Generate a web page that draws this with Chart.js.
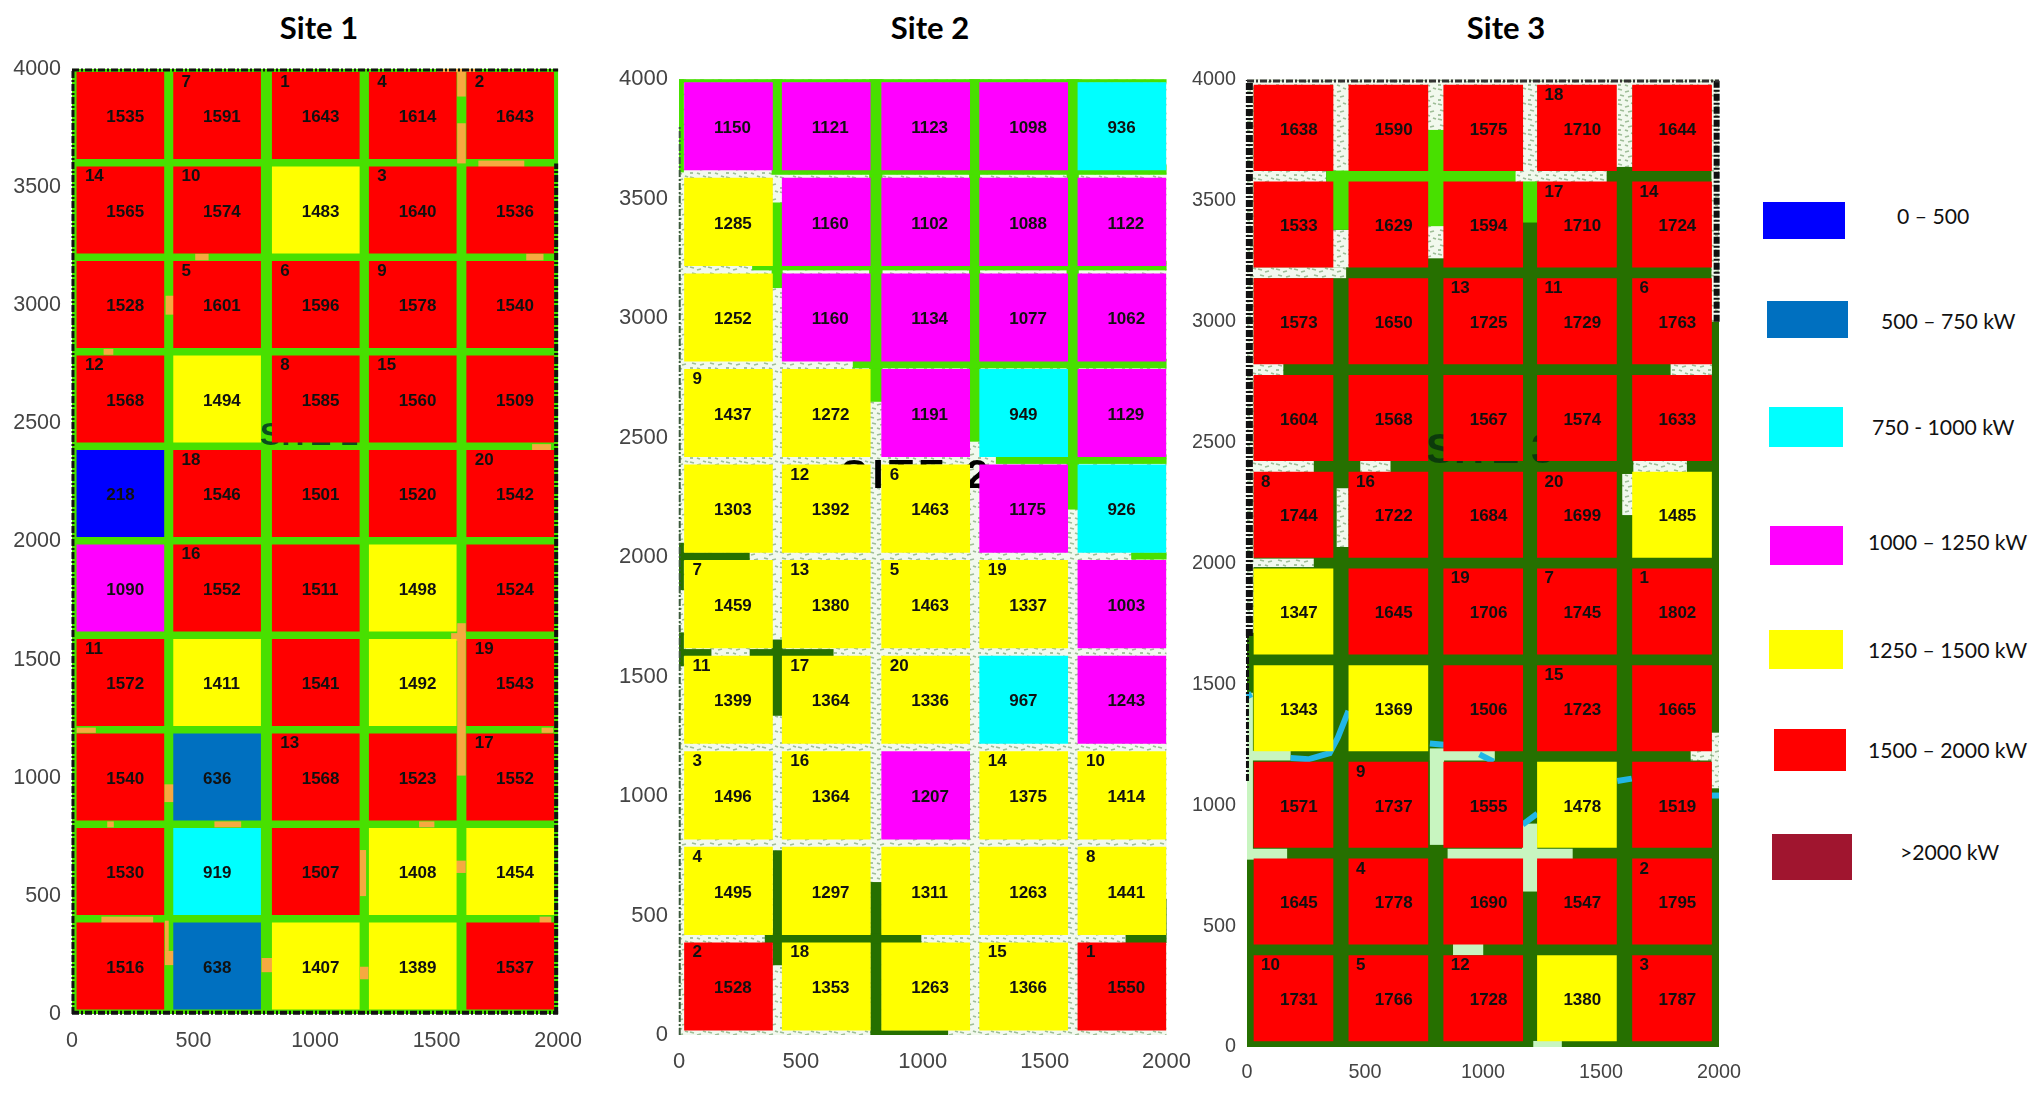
<!DOCTYPE html>
<html>
<head>
<meta charset="utf-8">
<title>Site power map</title>
<script src="https://cdn.jsdelivr.net/npm/chart.js@4"></script>
<style>
  html, body { margin: 0; padding: 0; background: #fff; }
  #page { position: relative; width: 2036px; height: 1095px; overflow: hidden; }
  canvas { position: absolute; }
  .title { position: absolute; font: bold 31px Lato, sans-serif; color: #000; transform: translate(-50%, -50%); white-space: nowrap; }
  .swatch { position: absolute; }
  .label { position: absolute; font: 21.2px Lato, sans-serif; color: #111; transform: translateY(-50%); white-space: nowrap; }
</style>
</head>
<body>
<div id="page"></div>
<script>
// Values per cell, rows top to bottom, 5 columns
const site1Values = [
    1535, 1591, 1643, 1614, 1643,
    1565, 1574, 1483, 1640, 1536,
    1528, 1601, 1596, 1578, 1540,
    1568, 1494, 1585, 1560, 1509,
    218, 1546, 1501, 1520, 1542,
    1090, 1552, 1511, 1498, 1524,
    1572, 1411, 1541, 1492, 1543,
    1540, 636, 1568, 1523, 1552,
    1530, 919, 1507, 1408, 1454,
    1516, 638, 1407, 1389, 1537
];
const site2Values = [
    1150, 1121, 1123, 1098, 936,
    1285, 1160, 1102, 1088, 1122,
    1252, 1160, 1134, 1077, 1062,
    1437, 1272, 1191, 949, 1129,
    1303, 1392, 1463, 1175, 926,
    1459, 1380, 1463, 1337, 1003,
    1399, 1364, 1336, 967, 1243,
    1496, 1364, 1207, 1375, 1414,
    1495, 1297, 1311, 1263, 1441,
    1528, 1353, 1263, 1366, 1550
];
const site3Values = [
    1638, 1590, 1575, 1710, 1644,
    1533, 1629, 1594, 1710, 1724,
    1573, 1650, 1725, 1729, 1763,
    1604, 1568, 1567, 1574, 1633,
    1744, 1722, 1684, 1699, 1485,
    1347, 1645, 1706, 1745, 1802,
    1343, 1369, 1506, 1723, 1665,
    1571, 1737, 1555, 1478, 1519,
    1645, 1778, 1690, 1547, 1795,
    1731, 1766, 1728, 1380, 1787
];

// Ranking number in the corner of a cell, 0 = none
const site1Ranks = [
    0, 7, 1, 4, 2,
    14, 10, 0, 3, 0,
    0, 5, 6, 9, 0,
    12, 0, 8, 15, 0,
    0, 18, 0, 0, 20,
    0, 16, 0, 0, 0,
    11, 0, 0, 0, 19,
    0, 0, 13, 0, 17,
    0, 0, 0, 0, 0,
    0, 0, 0, 0, 0
];
const site2Ranks = [
    0, 0, 0, 0, 0,
    0, 0, 0, 0, 0,
    0, 0, 0, 0, 0,
    9, 0, 0, 0, 0,
    0, 12, 6, 0, 0,
    7, 13, 5, 19, 0,
    11, 17, 20, 0, 0,
    3, 16, 0, 14, 10,
    4, 0, 0, 0, 8,
    2, 18, 0, 15, 1
];
const site3Ranks = [
    0, 0, 0, 18, 0,
    0, 0, 0, 17, 14,
    0, 0, 13, 11, 6,
    0, 0, 0, 0, 0,
    8, 16, 0, 20, 0,
    0, 0, 19, 7, 1,
    0, 0, 0, 15, 0,
    0, 9, 0, 0, 0,
    0, 4, 0, 0, 2,
    10, 5, 12, 0, 3
];

const binEdges = [500, 750, 1000, 1250, 1500, 2000];
const binColors = ['#0000ff', '#0070c0', '#00ffff', '#ff00ff', '#ffff00', '#ff0000', '#a0152f'];
const binLabels = ['0 – 500', '500 – 750 kW', '750 - 1000 kW', '1000 – 1250 kW', '1250 – 1500 kW', '1500 – 2000 kW', '>2000 kW'];

const ROAD = '#48e000';
const DARK = '#267000';
const ORANGE = '#f6a940';
const LIGHT = '#c8f5c0';
const RIVER = '#22b6e6';

// Ground pieces under the cells, [x0, y0, x1, y1] in axis units
const site1Orange = [
    [1585, 3883, 1620, 4000], [1585, 3600, 1620, 3770], [1672, 3585, 1861, 3612], [1500, 3985, 1660, 4000],
    [507, 3190, 562, 3218], [1869, 3190, 1940, 3218], [385, 2960, 420, 3040], [130, 2790, 170, 2815],
    [1893, 2385, 1971, 2412], [1585, 1009, 1620, 1654], [1560, 1580, 1620, 1612], [19, 1190, 98, 1212],
    [1932, 1190, 1980, 1212], [380, 897, 420, 972], [145, 790, 172, 815], [586, 790, 696, 815],
    [1428, 790, 1491, 815], [1185, 499, 1210, 694], [1580, 597, 1620, 649], [121, 385, 334, 412],
    [1924, 385, 1972, 412], [382, 267, 398, 395], [382, 207, 420, 267], [780, 177, 825, 237], [1185, 147, 1220, 200]
];
const site2Road = [
    [0, 3985, 2000, 4000], [380, 3620, 425, 4000], [780, 2650, 835, 4000], [1190, 2483, 1235, 4000],
    [1590, 2199, 1640, 4000], [380, 3600, 2000, 3640], [380, 3126, 425, 3484],
    [300, 3200, 2000, 3240], [713, 2790, 2000, 2830], [1300, 2390, 2000, 2430], [1855, 1990, 2000, 2020],
    [0, 3610, 20, 4000]
];
const site2Dark = [
    [0, 1862, 20, 2060], [0, 1985, 290, 2020], [0, 1543, 20, 1685], [0, 1585, 133, 1615], [290, 1585, 634, 1615],
    [380, 1336, 425, 1655], [385, 292, 425, 773], [785, 0, 832, 640], [352, 385, 994, 425], [1832, 385, 2000, 425],
    [790, 0, 1104, 20], [1996, 420, 2000, 570]
];
const site3Speckle = [
    [0, 3975, 2000, 4000], [363, 3617, 433, 4000], [765, 3750, 835, 4000], [1168, 3590, 1231, 4000],
    [1564, 3640, 1634, 4000], [0, 3575, 336, 3630], [1107, 3575, 1524, 3630], [363, 3225, 433, 3380],
    [765, 3262, 835, 3403], [0, 3180, 420, 3225], [0, 2775, 154, 2825], [1795, 2775, 1970, 2825],
    [0, 2375, 283, 2425], [480, 2375, 608, 2425], [1637, 2375, 1864, 2425], [1590, 2200, 1640, 2370],
    [380, 2068, 430, 2311], [0, 1985, 283, 2020], [0, 1713, 28, 4000], [1968, 3000, 2000, 4000],
    [1968, 1070, 2000, 1300], [1880, 1185, 1968, 1225]
];
const site3Road = [
    [363, 3380, 433, 3616], [336, 3575, 1138, 3625], [765, 3395, 835, 3793], [1168, 3410, 1231, 3580]
];
const site3Light = [
    [0, 778, 25, 1465], [0, 1185, 185, 1225], [0, 775, 170, 820], [775, 836, 835, 1231], [775, 1185, 1050, 1235],
    [850, 770, 1380, 820], [1165, 643, 1230, 924], [873, 380, 1001, 430], [1213, 0, 1334, 25]
];
const site3River = [
    [[185, 1195], [260, 1190], [350, 1215], [385, 1280], [430, 1390]],
    [[775, 1255], [835, 1250]],
    [[985, 1210], [1045, 1180]],
    [[1168, 920], [1230, 965]],
    [[1569, 1100], [1630, 1110]],
    [[1970, 1040], [2000, 1040]],
    [[0, 1450], [20, 1460]]
];

function colorFor(v) {
    let i = binEdges.findIndex(e => v < e);
    if (i < 0) i = binEdges.length;
    return binColors[i];
}

// Speckled ground tile
function makeSpeckle(ctx) {
    const c = document.createElement('canvas');
    c.width = 18; c.height = 15;
    const t = c.getContext('2d');
    t.fillStyle = '#f2f9ee';
    t.fillRect(0, 0, 18, 15);
    t.strokeStyle = '#9ebd97';
    t.lineWidth = 1.8;
    [[1, 2, 5, 3], [8, 5, 12, 4], [14, 1, 17, 2], [3, 8, 7, 9], [11, 10, 15, 9], [1, 13, 4, 13], [8, 13, 11, 14]].forEach(d => {
        t.beginPath(); t.moveTo(d[0], d[1]); t.lineTo(d[2], d[3]); t.stroke();
    });
    return ctx.createPattern(c, 'repeat');
}

function fillRects(chart, rects, fill) {
    const { ctx, scales: { x, y } } = chart;
    ctx.fillStyle = fill;
    rects.forEach(r => {
        const px = x.getPixelForValue(r[0]), py = y.getPixelForValue(r[3]);
        ctx.fillRect(px, py, x.getPixelForValue(r[2]) - px, y.getPixelForValue(r[1]) - py);
    });
}

function dashLine(chart, x0, y0, x1, y1, width, color) {
    const { ctx, scales: { x, y } } = chart;
    ctx.save();
    ctx.strokeStyle = color;
    ctx.lineWidth = width;
    ctx.setLineDash([7, 2, 2, 2]);
    ctx.beginPath();
    ctx.moveTo(x.getPixelForValue(x0), y.getPixelForValue(y0));
    ctx.lineTo(x.getPixelForValue(x1), y.getPixelForValue(y1));
    ctx.stroke();
    ctx.restore();
}

function stamp(chart, s) {
    const { ctx, scales: { x, y } } = chart;
    ctx.save();
    ctx.fillStyle = s.stamp.color;
    ctx.font = 'bold ' + s.stamp.size + 'px "Liberation Sans"';
    ctx.letterSpacing = s.stamp.spacing + 'px';
    ctx.textAlign = 'left';
    ctx.textBaseline = 'alphabetic';
    ctx.fillText(s.stamp.text, x.getPixelForValue(s.stamp.x), y.getPixelForValue(s.stamp.y));
    ctx.restore();
}

const ground = {
    site1(chart) {
        fillRects(chart, [[0, 0, 2000, 4000]], ROAD);
        fillRects(chart, site1Orange, ORANGE);
    },
    site2(chart) {
        fillRects(chart, [[0, 0, 2000, 4000]], makeSpeckle(chart.ctx));
        fillRects(chart, site2Road, ROAD);
        fillRects(chart, site2Dark, DARK);
    },
    site3(chart) {
        const { ctx, scales: { x, y } } = chart;
        fillRects(chart, [[0, 0, 2000, 4000]], DARK);
        fillRects(chart, site3Speckle, makeSpeckle(ctx));
        fillRects(chart, site3Road, ROAD);
        fillRects(chart, site3Light, LIGHT);
        ctx.strokeStyle = RIVER;
        ctx.lineWidth = 6;
        site3River.forEach(line => {
            ctx.beginPath();
            line.forEach((p, i) => {
                if (i === 0) ctx.moveTo(x.getPixelForValue(p[0]), y.getPixelForValue(p[1]));
                else ctx.lineTo(x.getPixelForValue(p[0]), y.getPixelForValue(p[1]));
            });
            ctx.stroke();
        });
    }
};

const edges = {
    site1(chart) {
        dashLine(chart, 0, 3995, 2000, 3995, 3, '#111');
        dashLine(chart, 0, 5, 2000, 5, 4, '#111');
        dashLine(chart, 4, 0, 4, 4000, 3, '#111');
        dashLine(chart, 1992, 0, 1992, 3600, 4, '#111');
    },
    site2(chart) {
        dashLine(chart, 3, 0, 3, 3800, 2, '#3c5a3c');
    },
    site3(chart) {
        dashLine(chart, 10, 1700, 10, 4000, 7, '#111');
        dashLine(chart, 2, 1100, 2, 1700, 3, '#111');
        dashLine(chart, 1990, 3000, 1990, 4000, 6, '#111');
        dashLine(chart, 0, 3995, 2000, 3995, 3, '#333');
    }
};

const sites = [
    { id: 'site1', title: 'Site 1', titleX: 319, values: site1Values, ranks: site1Ranks,
      left: 72, top: 69, w: 486, h: 945, colX: [199, 597, 1003, 1402, 1803], barW: 87, rowLo: 20, rowHi: 386,
      tickSize: 21.5, valueDx: 121, rankDx: 33,
      stamp: { text: 'SITE 1', color: '#0b4d1e', size: 32, spacing: 0, x: 774, y: 2407 } },
    { id: 'site2', title: 'Site 2', titleX: 930, values: site2Values, ranks: site2Ranks,
      left: 679, top: 79, w: 488, h: 956, colX: [203, 604, 1012, 1414, 1817], barW: 88, rowLo: 20, rowHi: 386,
      tickSize: 22, valueDx: 121, rankDx: 33,
      stamp: { text: 'SITE 2', color: '#000', size: 40, spacing: 5, x: 664, y: 2289 } },
    { id: 'site3', title: 'Site 3', titleX: 1506, values: site3Values, ranks: site3Ranks,
      left: 1247, top: 80, w: 472, h: 967, colX: [197, 599, 1001, 1398, 1801], barW: 79, rowLo: 25, rowHi: 378,
      tickSize: 19.8, valueDx: 110, rankDx: 30,
      stamp: { text: 'SITE 3', color: '#0c3a0c', size: 42, spacing: 0, x: 758, y: 2417 } }
];

const page = document.getElementById('page');

sites.forEach(s => {
    const padL = 62, padT = 16, padR = 30, padB = 48;

    const title = document.createElement('div');
    title.className = 'title';
    title.textContent = s.title;
    title.style.left = s.titleX + 'px';
    title.style.top = '27px';
    page.appendChild(title);

    const canvas = document.createElement('canvas');
    canvas.width = s.w + padL + padR;
    canvas.height = s.h + padT + padB;
    page.appendChild(canvas);

    const cells = s.values.map((v, i) => {
        const row = Math.floor(i / 5), col = i % 5;
        const base = (9 - row) * 400;
        return { x: s.colX[col], y: [base + s.rowLo, base + s.rowHi] };
    });

    const chart = new Chart(canvas.getContext('2d'), {
        type: 'bar',
        data: {
            datasets: [{
                data: cells,
                backgroundColor: s.values.map(colorFor),
                borderWidth: 0,
                borderSkipped: false,
                barThickness: s.barW
            }]
        },
        options: {
            responsive: false,
            maintainAspectRatio: false,
            animation: false,
            layout: { padding: { left: 0, top: padT, right: padR, bottom: 0 } },
            scales: {
                x: {
                    type: 'linear', min: 0, max: 2000, offset: false,
                    grid: { display: false, drawTicks: false, offset: false },
                    border: { display: false },
                    afterFit: a => { a.height = padB; },
                    ticks: { stepSize: 500, color: '#444', padding: 14, maxRotation: 0, autoSkip: false,
                             callback: v => String(v),
                             font: { family: '"Liberation Sans"', size: s.tickSize } }
                },
                y: {
                    min: 0, max: 4000,
                    grid: { display: false, drawTicks: false },
                    border: { display: false },
                    afterFit: a => { a.width = padL; },
                    ticks: { stepSize: 500, color: '#444', padding: 11, autoSkip: false,
                             callback: v => String(v),
                             font: { family: '"Liberation Sans"', size: s.tickSize } }
                }
            },
            plugins: { legend: { display: false }, tooltip: { enabled: false } }
        },
        plugins: [{
            id: 'ground',
            beforeDatasetsDraw(chart) {
                ground[s.id](chart);
                stamp(chart, s);
                edges[s.id](chart);
            },
            afterDatasetsDraw(chart) {
                const { ctx, scales: { x, y } } = chart;
                ctx.save();
                ctx.textAlign = 'left';
                ctx.textBaseline = 'middle';
                ctx.fillStyle = '#111';
                ctx.font = 'bold 17px "Liberation Sans"';
                s.values.forEach((v, i) => {
                    const cell = cells[i];
                    const colStart = cell.x - (s.barW / 2) / (x.width / 2000);
                    const midY = (cell.y[0] + cell.y[1]) / 2;
                    ctx.fillText(v, x.getPixelForValue(colStart + s.valueDx), y.getPixelForValue(midY) + 2);
                    if (s.ranks[i]) {
                        ctx.fillText(s.ranks[i], x.getPixelForValue(colStart + s.rankDx), y.getPixelForValue(cell.y[1]) + 10);
                    }
                });
                ctx.restore();
            }
        }]
    });

    // the layout eats some extra room for the tick labels, so grow the canvas until the axes span the size wanted
    const xPx = v => chart.scales.x.getPixelForValue(v);
    const yPx = v => chart.scales.y.getPixelForValue(v);
    for (let i = 0; i < 6; i++) {
        const dw = s.w - (xPx(2000) - xPx(0)), dh = s.h - (yPx(0) - yPx(4000));
        if (Math.abs(dw) < 0.5 && Math.abs(dh) < 0.5) break;
        chart.resize(Math.round(chart.width + dw), Math.round(chart.height + dh));
    }
    canvas.style.left = Math.round(s.left - xPx(0)) + 'px';
    canvas.style.top = Math.round(s.top - yPx(4000)) + 'px';
});

// Legend
const swatchBoxes = [
    [1763, 202, 82, 37], [1767, 301, 81, 37], [1769, 407, 74, 40], [1770, 526, 73, 39],
    [1769, 630, 74, 39], [1774, 729, 72, 42], [1772, 834, 80, 46]
];
const labelSpots = [[1897, 216], [1881, 321], [1872, 427], [1868, 542], [1868, 650], [1868, 750], [1900, 852]];

binLabels.forEach((text, i) => {
    const b = swatchBoxes[i];
    const sw = document.createElement('div');
    sw.className = 'swatch';
    sw.style.cssText = `left:${b[0]}px;top:${b[1]}px;width:${b[2]}px;height:${b[3]}px;background:${binColors[i]}`;
    page.appendChild(sw);
    const lb = document.createElement('div');
    lb.className = 'label';
    lb.textContent = text;
    lb.style.left = labelSpots[i][0] + 'px';
    lb.style.top = labelSpots[i][1] + 'px';
    page.appendChild(lb);
});
</script>
</body>
</html>
